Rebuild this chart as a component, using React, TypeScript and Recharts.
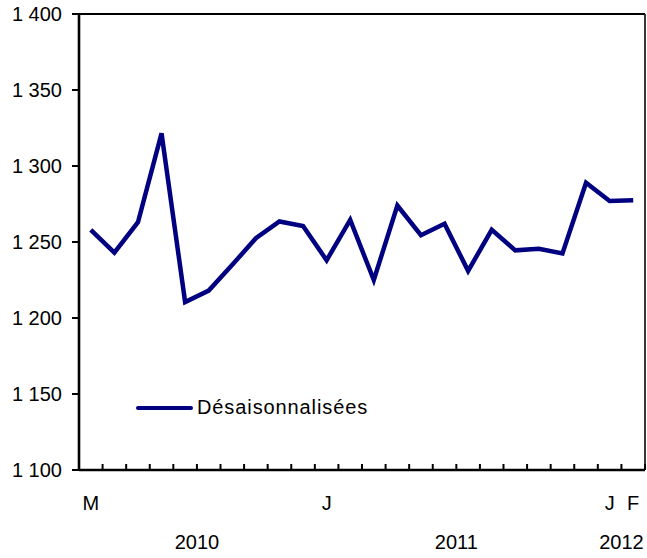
import { Legend, Line, LineChart, ReferenceLine, XAxis, YAxis } from "recharts";

// Mar 2010 .. Feb 2012, one initial per month
const months = ["M", "A", "M", "J", "J", "A", "S", "O", "N", "D",
                "J", "F", "M", "A", "M", "J", "J", "A", "S", "O", "N", "D",
                "J", "F"];
const labelledMonths = [0, 10, 22, 23];
const years = ["2010", "2011", "2012"];
const monthsPerYear = [10, 12, 2];
const values = [1258, 1243, 1263, 1321.5, 1210.5, 1218, 1235, 1252.5, 1263.5, 1260.5,
                1238, 1264.5, 1225, 1274, 1254.5, 1262, 1231, 1258, 1244.5, 1245.5, 1242.5, 1289,
                1277, 1277.5];
const yTicks = [1100, 1150, 1200, 1250, 1300, 1350, 1400];
const SERIES = "Désaisonnalisées";

const rows = values.map((value, x) => ({ x, value }));
const boundaries = months.map((_, i) => i - 0.5).concat(months.length - 0.5);
const yearCentres = monthsPerYear.map((n, i) => {
  const start = monthsPerYear.slice(0, i).reduce((a, b) => a + b, 0);
  return start + n / 2 - 0.5;
});
const xTicks = boundaries.concat(labelledMonths);
const domain = [-0.5, months.length - 0.5];

const FONT = '"Liberation Sans", Arial, Helvetica, sans-serif';
const NAVY = "#000080";
const TICK = { fontFamily: FONT, fontSize: 20, fill: "#000" };

const fmt = (v: number) => String(v).replace(/\B(?=(\d{3})+(?!\d))/g, " ");

// boundary ticks draw an inward mark (and a year label under the year's span),
// whole-number ticks carry the month initial
function MonthTick({ x, y, payload }: any) {
  const v = payload.value as number;
  if (Number.isInteger(v)) {
    return (
      <text x={x} y={y + 40} textAnchor="middle" fontFamily={FONT} fontSize={20} fill="#000">
        {months[v]}
      </text>
    );
  }
  const yi = yearCentres.indexOf(v);
  return (
    <g>
      <line x1={x} x2={x} y1={y - 6} y2={y} stroke="#000" strokeWidth={2} />
      {yi >= 0 && (
        <text x={x} y={y + 79} textAnchor="middle" fontFamily={FONT} fontSize={20} fill="#000">
          {years[yi]}
        </text>
      )}
    </g>
  );
}

function LegendBox({ payload }: any) {
  const item = payload && payload[0];
  return (
    <div style={{ display: "flex", alignItems: "center", fontFamily: FONT, fontSize: 20,
                  letterSpacing: 0.9, color: "#000" }}>
      <span style={{ display: "inline-block", width: 57, height: 4, borderRadius: 2,
                     background: item ? item.color : NAVY, marginRight: 4 }} />
      <span>{item ? item.value : SERIES}</span>
    </div>
  );
}

export default function App() {
  return (
    <div style={{ position: "absolute", left: 0, top: 0, background: "#fff" }}>
      <LineChart width={647} height={558} data={rows}
                 margin={{ top: 14, right: 2, left: 0, bottom: 0 }}>
        <XAxis type="number" dataKey="x" domain={domain} ticks={xTicks} interval={0}
               height={88} tickSize={0} tickMargin={0} tickLine={false}
               tick={<MonthTick />}
               axisLine={{ stroke: "#000", strokeWidth: 2.6 }} />
        <YAxis domain={[1100, 1400]} ticks={yTicks} width={79} interval={0}
               tickSize={7} tickMargin={10} tick={TICK} tickFormatter={fmt}
               axisLine={{ stroke: "#000", strokeWidth: 2.6 }}
               tickLine={{ stroke: "#000", strokeWidth: 2 }} />
        <ReferenceLine y={1400} stroke="#000" strokeWidth={2.2} />
        <ReferenceLine x={months.length - 0.5} stroke="#222" strokeWidth={1.8} />
        <Legend content={<LegendBox />} verticalAlign="middle" align="center"
                wrapperStyle={{ left: 136, top: 396, width: "auto", bottom: "auto" }} />
        <Line type="linear" dataKey="value" name={SERIES} stroke={NAVY}
              strokeWidth={4.5} dot={false} activeDot={false} isAnimationActive={false} />
      </LineChart>
    </div>
  );
}
